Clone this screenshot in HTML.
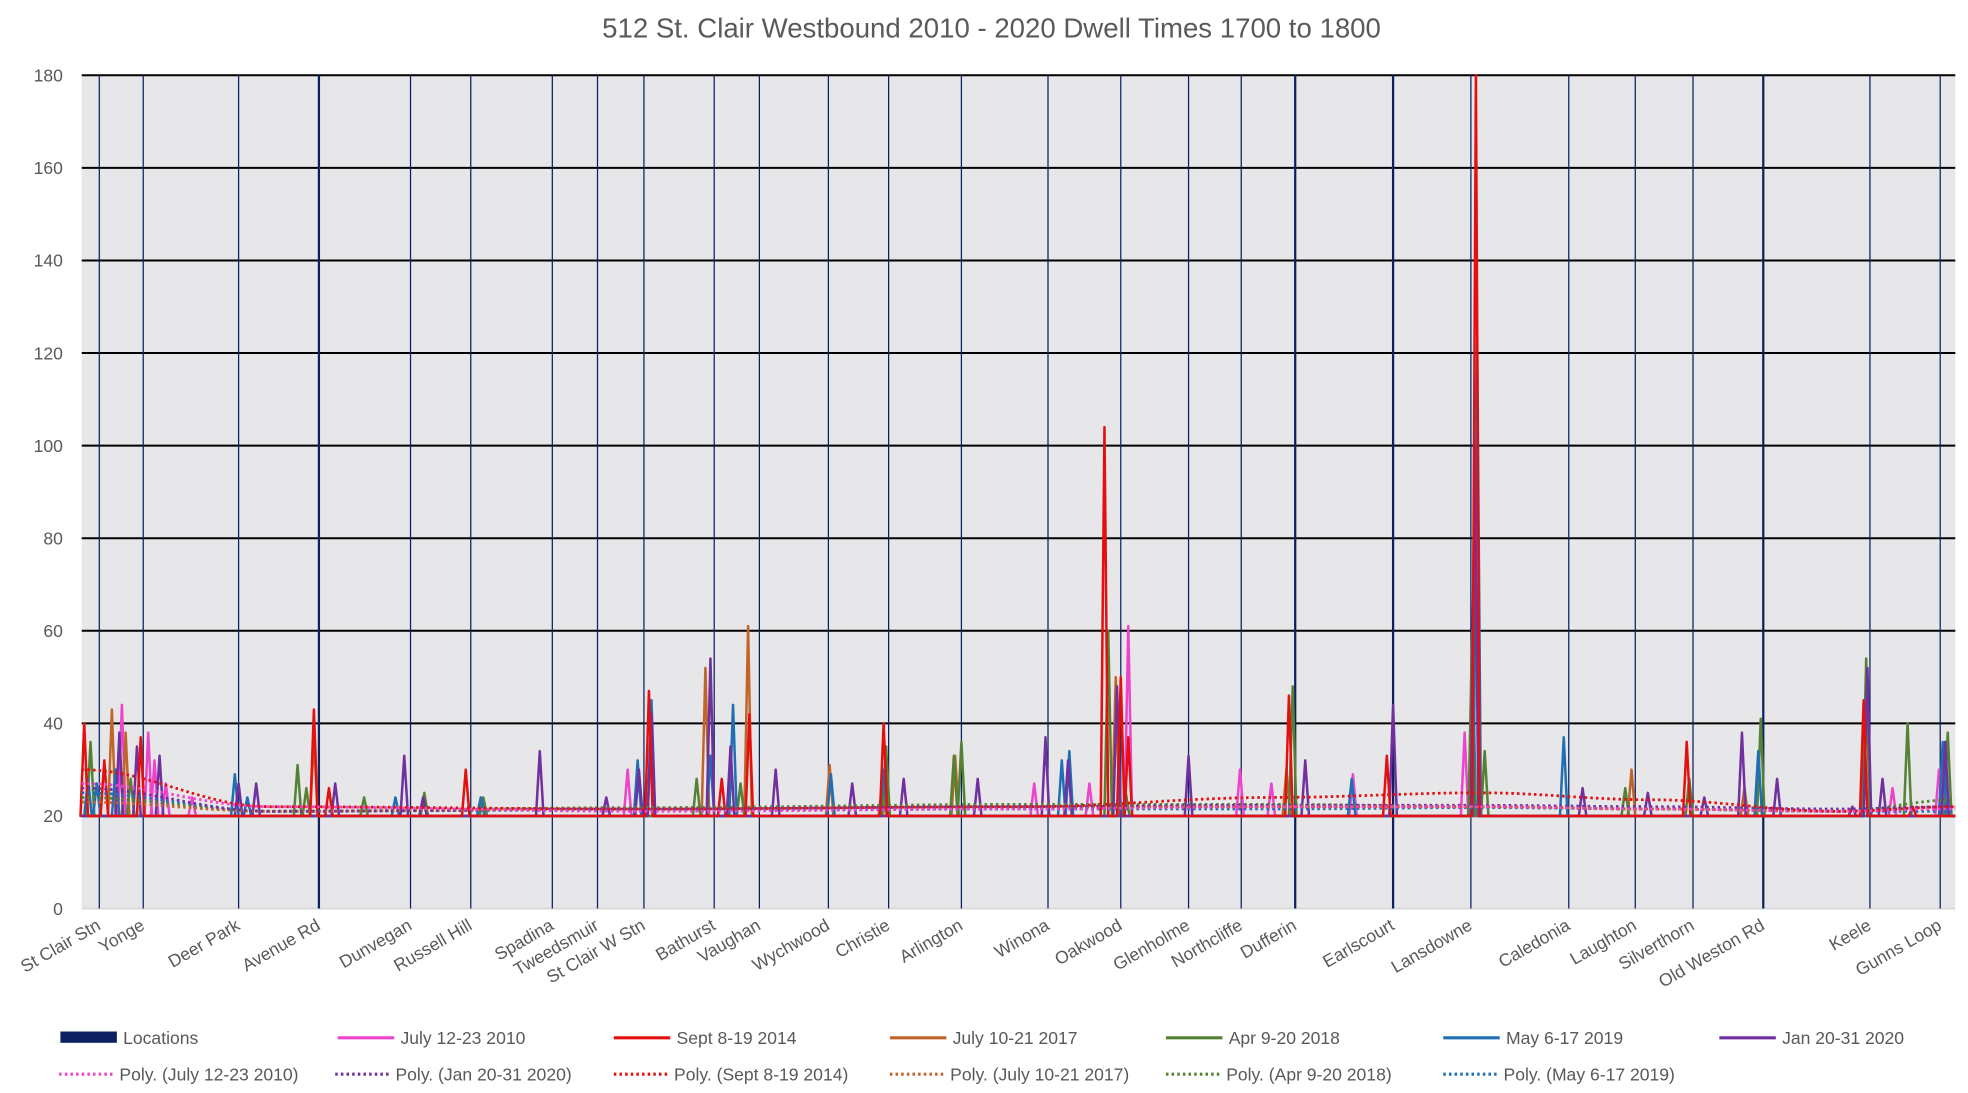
<!DOCTYPE html>
<html><head><meta charset="utf-8"><style>
html,body{margin:0;padding:0;background:#fff;}
svg{display:block;font-family:"Liberation Sans",sans-serif;}
</style></head><body>
<svg id="chart" width="1968" height="1093" viewBox="0 0 1568 871" xmlns="http://www.w3.org/2000/svg">
<text x="790" y="30" text-anchor="middle" font-size="22" fill="#595959">512 St. Clair Westbound 2010 - 2020 Dwell Times 1700 to 1800</text>
<rect x="65" y="60" width="1493" height="664" fill="#e7e6e8"/>
<g id="grid"></g><g id="locs"></g><g id="series"></g><g id="polys"></g><g id="yticks"></g><g id="xlabels"></g><g id="legend"></g>
</svg>
<script>
const yTicks=[0,20,40,60,80,100,120,140,160,180];
const locNames=["St Clair Stn","Yonge","Deer Park","Avenue Rd","Dunvegan","Russell Hill","Spadina","Tweedsmuir","St Clair W Stn","Bathurst","Vaughan","Wychwood","Christie","Arlington","Winona","Oakwood","Glenholme","Northcliffe","Dufferin","Earlscourt","Lansdowne","Caledonia","Laughton","Silverthorn","Old Weston Rd","Keele","Gunns Loop"];
const locPos=[14,49,125,189,262,310,375,411,448,504,540,595,643,701,770,828,882,924,967,1045,1107,1185,1238,1284,1340,1425,1481];
const s2010=[[32,44],[53,38],[58,32],[67,27],[88,24],[435,30],[759,27],[803,27],[834,61],[923,30],[948,27],[1013,29],[1102,38],[1443,26],[1480,30]];
const s2014=[[2,40],[18,32],[47,37],[185,43],[197,26],[306,30],[452,47],[510,28],[532,42],[639,40],[815,104],[828,50],[834,37],[962,46],[1040,33],[1111,180],[1279,36],[1420,45],[1459,22]];
const s2017=[[24,43],[35,38],[185,37],[497,52],[531,61],[596,31],[638,27],[696,33],[824,50],[960,30],[1235,30],[1325,26],[1422,48]];
const s2018=[[7,36],[39,28],[172,31],[179,26],[225,24],[273,25],[320,24],[490,28],[525,27],[641,35],[695,33],[701,36],[818,60],[832,25],[965,48],[1108,60],[1118,34],[1230,26],[1281,28],[1338,41],[1422,54],[1455,40],[1487,38]];
const s2019=[[5,28],[12,27],[27,30],[122,29],[132,24],[250,24],[318,24],[443,32],[454,45],[501,33],[519,44],[597,29],[639,30],[781,32],[787,34],[1012,28],[1112,122],[1181,37],[1336,34],[1483,36]];
const s2020=[[30,38],[44,35],[62,33],[125,27],[139,27],[202,27],[257,33],[272,24],[365,34],[418,24],[444,30],[454,42],[501,54],[517,35],[553,30],[614,27],[655,28],[714,28],[768,37],[786,32],[825,48],[882,33],[975,32],[1045,44],[1110,100],[1196,26],[1248,25],[1293,24],[1323,38],[1351,28],[1411,22],[1423,52],[1435,28],[1485,36]];
const polyKnots=[0,150,450,750,950,1115,1250,1400,1493];
const p2010=[27,22,21,21.5,22,22,21.5,21,21.5];
const p2014=[30,22,21.5,22,24,25,23.5,21,22];
const p2017=[23,21,21.5,22,22,22,21.5,21,22];
const p2018=[24,21,21.8,22.5,22.5,22,21.5,21,23.5];
const p2019=[25,21,21.3,21.5,21.5,21.8,21.5,21,21];
const p2020=[26,21,21.5,22,22.3,22.3,22,21.5,22];

const X0=65,X1=1558,Y0=724,Y1=60;
const xs=v=>X0+v*(X1-X0)/1493;
const ys=v=>Y0-v*(Y0-Y1)/180;
const NS="http://www.w3.org/2000/svg";
function mk(t,a,p){const e=document.createElementNS(NS,t);for(const k in a)e.setAttribute(k,a[k]);p.appendChild(e);return e;}
const G=id=>document.getElementById(id);

yTicks.forEach(v=>{
  if(v>0){const l=mk('line',{x1:X0,x2:X1,y1:ys(v),y2:ys(v),stroke:(v==20?'#bfbfbf':'#000'),'stroke-width':v==20?1:1.6},G('grid'));
  
  }
  const t=mk('text',{x:50,y:ys(v)+5,'text-anchor':'end','font-size':14,fill:'#595959'},G('yticks'));t.textContent=v;
  
  
});
mk('line',{x1:X0,x2:X1,y1:Y0,y2:Y0,stroke:'#d9d9d9','stroke-width':1.5},G('grid'));

locPos.forEach((p,i)=>{
  const thick=(i==3||i==18||i==19||i==24);
  const l=mk('line',{x1:xs(p),x2:xs(p),y1:Y1,y2:Y0,stroke:'#0c2260','stroke-width':thick?1.8:1},G('locs'));
  
  
  const x=xs(p)+2,y=740;
  const t=mk('text',{x:x,y:y,'text-anchor':'end','font-size':14,fill:'#595959',transform:`rotate(-30 ${x} ${y})`},G('xlabels'));
  t.textContent=locNames[i];
  
  
});

function spikes(arr,color,name){
  arr=arr.slice().sort((a,b)=>a[0]-b[0]);
  let pts=[[xs(0),ys(20)]];
  arr.forEach(([i,v])=>{pts.push([xs(i-3),ys(20)]);pts.push([xs(i),ys(v)]);pts.push([xs(i+3),ys(20)]);});
  pts.push([xs(1493),ys(20)]);
  const e=mk('polyline',{points:pts.map(p=>p.join(',')).join(' '),fill:'none',stroke:color,'stroke-width':2,'stroke-linejoin':'round'},G('series'));
  
  
}
spikes(s2010,'#ee44cc','series-july-2010');
spikes(s2017,'#c0652a','series-july-2017');
spikes(s2018,'#548235','series-apr-2018');
spikes(s2019,'#1f6fb4','series-may-2019');
spikes(s2020,'#7030a0','series-jan-2020');
spikes(s2014,'#e41010','series-sept-2014');

function poly(vals,color,name){
  let pts=[];
  for(let k=0;k<polyKnots.length-1;k++){
    for(let s=0;s<20;s++){const t=s/20;const tt=(1-Math.cos(Math.PI*t))/2;
      pts.push([xs(polyKnots[k]+(polyKnots[k+1]-polyKnots[k])*t),ys(vals[k]+(vals[k+1]-vals[k])*tt)]);}
  }
  pts.push([xs(polyKnots[polyKnots.length-1]),ys(vals[vals.length-1])]);
  const e=mk('polyline',{points:pts.map(p=>p.join(',')).join(' '),fill:'none',stroke:color,'stroke-width':2.2,'stroke-dasharray':'2 2.5'},G('polys'));
  
  
}
poly(p2019,'#1f6fb4','trend-may-2019');
poly(p2018,'#548235','trend-apr-2018');
poly(p2017,'#c0652a','trend-july-2017');
poly(p2020,'#7030a0','trend-jan-2020');
poly(p2010,'#ee44cc','trend-july-2010');
poly(p2014,'#e41010','trend-sept-2014');

const leg=[
 [48,827,'Locations','#0c2260','box'],[269,827,'July 12-23 2010','#ee44cc','line'],[489,827,'Sept 8-19 2014','#e41010','line'],[709,827,'July 10-21 2017','#c0652a','line'],[929,827,'Apr 9-20 2018','#548235','line'],[1150,827,'May 6-17 2019','#1f6fb4','line'],[1370,827,'Jan 20-31 2020','#7030a0','line'],
 [47,856,'Poly. (July 12-23 2010)','#ee44cc','dot'],[267,856,'Poly. (Jan 20-31 2020)','#7030a0','dot'],[489,856,'Poly. (Sept 8-19 2014)','#e41010','dot'],[709,856,'Poly. (July 10-21 2017)','#c0652a','dot'],[929,856,'Poly. (Apr 9-20 2018)','#548235','dot'],[1150,856,'Poly. (May 6-17 2019)','#1f6fb4','dot']];
leg.forEach(([x,y,lab,c,k])=>{
  const g=mk('g',{},G('legend'));
  
  
  if(k=='box')mk('rect',{x:x,y:y-5,width:45,height:9,fill:c},g);
  else if(k=='line')mk('line',{x1:x,x2:x+45,y1:y,y2:y,stroke:c,'stroke-width':2.5},g);
  else mk('line',{x1:x,x2:x+45,y1:y,y2:y,stroke:c,'stroke-width':2.5,'stroke-dasharray':'2 2.5'},g);
  const t=mk('text',{x:x+(k=='dot'?48:50),y:y+5,'font-size':14,fill:'#595959'},g);t.textContent=lab;
});
</script>
</body></html>
